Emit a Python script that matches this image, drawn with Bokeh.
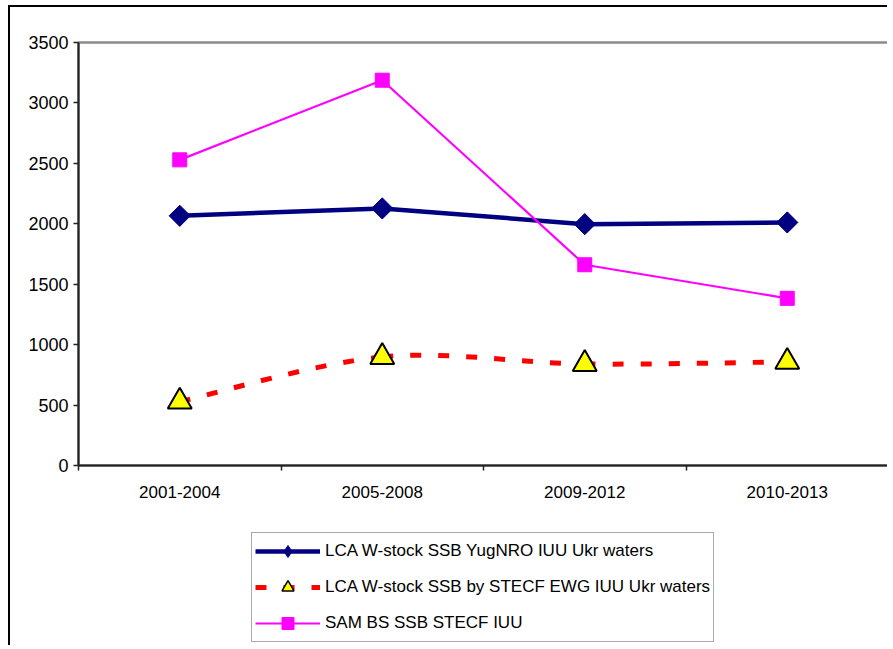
import math
from bokeh.plotting import figure
from bokeh.layouts import column
from bokeh.models import Range1d, FixedTicker, Legend, LegendItem
from bokeh.embed import file_html
from bokeh.resources import INLINE

# ---------------- data ----------------
categories = ["2001-2004", "2005-2008", "2009-2012", "2010-2013"]
lca_yugniro = [2066, 2127, 1997, 2011]
lca_stecf = [528, 898, 840, 858]
sam_bs = [2529, 3188, 1661, 1383]
y_ticks = [0, 500, 1000, 1500, 2000, 2500, 3000, 3500]

names = ["LCA W-stock SSB YugNRO IUU Ukr waters",
         "LCA W-stock SSB by STECF EWG IUU Ukr waters",
         "SAM BS SSB STECF IUU"]

FONT = "Liberation Sans"
NAVY, RED, YELLOW, MAGENTA = "#000080", "#ff0000", "#ffff00", "#ff00ff"

x = [i + 0.5 for i in range(len(categories))]

p = figure(width=879, height=498, output_backend="svg", toolbar_location=None,
           x_range=Range1d(0, len(categories)), y_range=Range1d(0, 3500),
           min_border_left=68, min_border_top=35, min_border_right=1,
           min_border_bottom=40)
p.styles = {"margin-left": "8px", "margin-top": "5px",
            "border-top": "2px solid black", "border-left": "2px solid black"}
p.background_fill_color = "white"
p.border_fill_color = "white"
p.outline_line_color = "#8c8c8c"
p.outline_line_width = 2.5
p.xgrid.visible = False
p.ygrid.visible = False

# axes
p.xaxis.ticker = FixedTicker(ticks=x, minor_ticks=list(range(len(categories) + 1)))
p.xaxis.major_label_overrides = {xv: c for xv, c in zip(x, categories)}
p.xaxis.major_tick_out = 0
p.xaxis.major_tick_in = 0
p.xaxis.minor_tick_out = 5
p.xaxis.minor_tick_in = 0
p.xaxis.major_label_standoff = 15
p.yaxis.ticker = FixedTicker(ticks=y_ticks, minor_ticks=[])
p.yaxis.major_tick_out = 5
p.yaxis.major_tick_in = 0
p.yaxis.major_label_standoff = 5
for ax in (p.xaxis, p.yaxis):
    ax.axis_line_color = "#222222"
    ax.axis_line_width = 2
    ax.major_tick_line_color = "#222222"
    ax.minor_tick_line_color = "#222222"
    ax.major_tick_line_width = 1.5
    ax.minor_tick_line_width = 1.5
    ax.major_label_text_font = FONT
    ax.major_label_text_color = "black"
p.xaxis.major_label_text_font_size = "17px"
p.yaxis.major_label_text_font_size = "18px"

# series 1: navy line with diamonds
p.line(x, lca_yugniro, line_color=NAVY, line_width=4.5)
p.scatter(x, lca_yugniro, marker="square", angle=math.pi / 4, size=15,
          fill_color=NAVY, line_color=NAVY)

# series 2: red smoothed dashed line with yellow triangles
n = len(x)
x0, y0, x1, y1, cx0, cy0, cx1, cy1 = [], [], [], [], [], [], [], []
for i in range(n - 1):
    pa = (x[max(i - 1, 0)], lca_stecf[max(i - 1, 0)])
    pb = (x[i], lca_stecf[i])
    pc = (x[i + 1], lca_stecf[i + 1])
    pd = (x[min(i + 2, n - 1)], lca_stecf[min(i + 2, n - 1)])
    x0.append(pb[0]); y0.append(pb[1])
    x1.append(pc[0]); y1.append(pc[1])
    cx0.append(pb[0] + (pc[0] - pa[0]) / 6); cy0.append(pb[1] + (pc[1] - pa[1]) / 6)
    cx1.append(pc[0] - (pd[0] - pb[0]) / 6); cy1.append(pc[1] - (pd[1] - pb[1]) / 6)
p.bezier(x0=x0, y0=y0, x1=x1, y1=y1, cx0=cx0, cy0=cy0, cx1=cx1, cy1=cy1,
         line_color=RED, line_width=5, line_dash="11 17")
p.scatter(x, lca_stecf, marker="triangle", size=24, fill_color=YELLOW,
          line_color="black", line_width=2)

# series 3: magenta line with squares
p.line(x, sam_bs, line_color=MAGENTA, line_width=2.2)
p.scatter(x, sam_bs, marker="square", size=14, fill_color=MAGENTA,
          line_color=MAGENTA)

# ---------------- legend panel ----------------
# same series drawn in a panel whose y range excludes them: only the legend shows
lg = figure(width=879, height=142, output_backend="svg", toolbar_location=None,
            x_axis_type=None, y_axis_type=None, min_border=0,
            x_range=Range1d(0, len(categories)), y_range=Range1d(-2, -1))
lg.styles = {"margin-left": "8px", "border-left": "2px solid black"}
lg.outline_line_color = None
lg.xgrid.visible = False
lg.ygrid.visible = False
r1 = [lg.line(x, lca_yugniro, line_color=NAVY, line_width=4.5),
      lg.scatter(x, lca_yugniro, marker="diamond", size=14, fill_color=NAVY,
                 line_color=NAVY)]
r2 = [lg.line(x, lca_stecf, line_color=RED, line_width=5, line_dash="11 17"),
      lg.scatter(x, lca_stecf, marker="triangle", size=12, fill_color=YELLOW,
                 line_color="black", line_width=1.5)]
r3 = [lg.line(x, sam_bs, line_color=MAGENTA, line_width=2.2),
      lg.scatter(x, sam_bs, marker="square", size=12, fill_color=MAGENTA,
                 line_color=MAGENTA)]

legend = Legend(items=[LegendItem(label=names[0], renderers=r1),
                       LegendItem(label=names[1], renderers=r2),
                       LegendItem(label=names[2], renderers=r3)],
                location=(173, 3), orientation="vertical")
legend.label_text_font = FONT
legend.label_text_font_size = "17px"
legend.label_text_color = "black"
legend.glyph_width = 65
legend.glyph_height = 30
legend.label_height = 20
legend.label_standoff = 5
legend.spacing = 6
legend.padding = 3
legend.margin = 0
legend.border_line_color = "#555555"
legend.border_line_width = 1.5
legend.background_fill_alpha = 1
lg.add_layout(legend, "center")

layout = column(p, lg, spacing=0)
open("out.html", "w").write(file_html(layout, INLINE))
